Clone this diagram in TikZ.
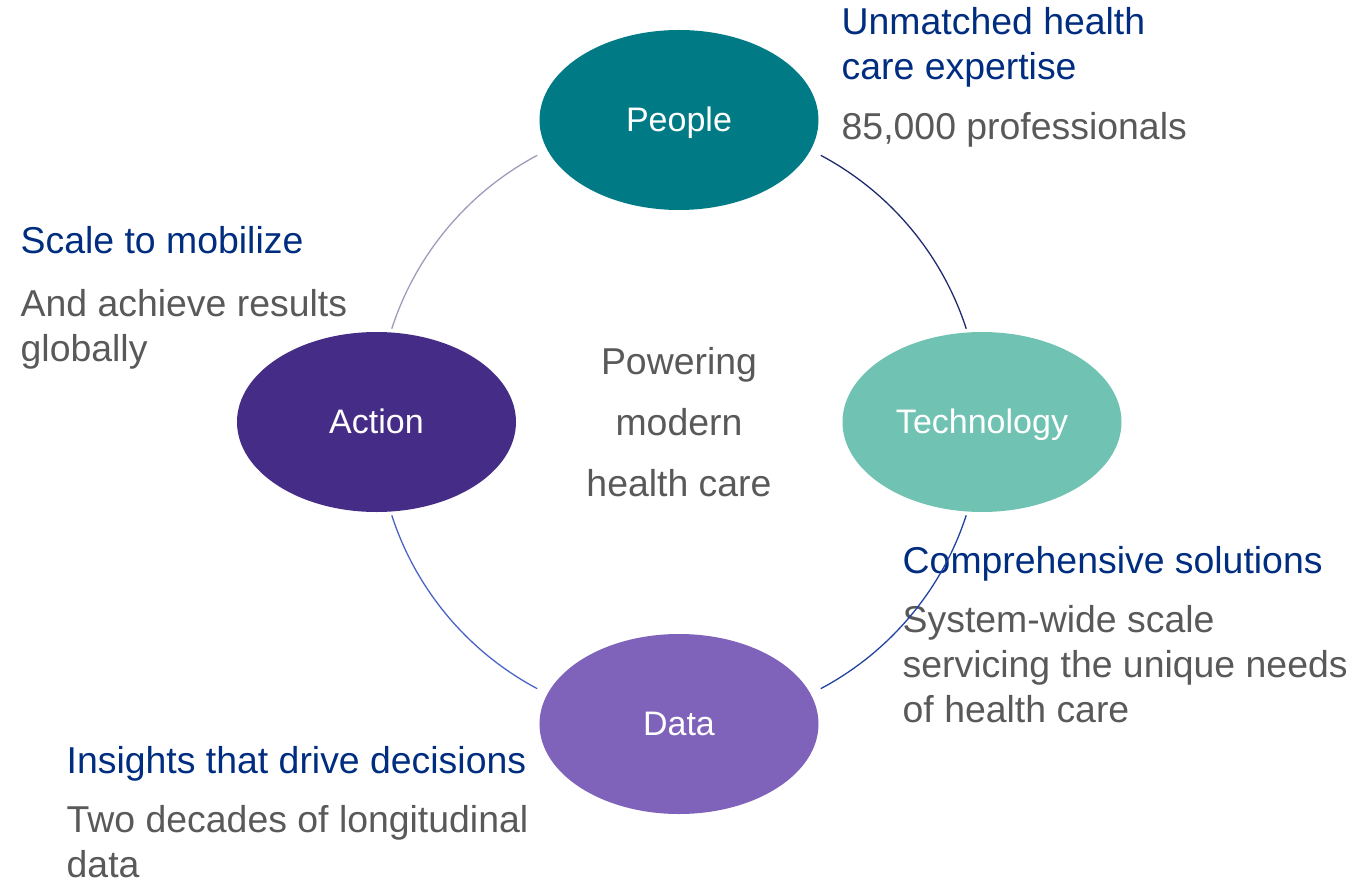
\documentclass[tikz,border=0pt]{standalone}
\usepackage{fontspec}
\setmainfont{Liberation Sans}
\usetikzlibrary{shapes.geometric}
\definecolor{peoplecol}{HTML}{007B85}
\definecolor{techcol}{HTML}{70C3B3}
\definecolor{datacol}{HTML}{7F62BA}
\definecolor{actioncol}{HTML}{452C87}
\definecolor{headcol}{HTML}{002D80}
\definecolor{notecol}{HTML}{595959}
\definecolor{ringA}{HTML}{9D9BBB}
\definecolor{ringB}{HTML}{1F2A6E}
\definecolor{ringC}{HTML}{2143A0}
\definecolor{ringD}{HTML}{4A63C4}

\begin{document}
\begin{tikzpicture}[x=1pt,y=1pt,
    blob/.style={ellipse, minimum width=279pt, minimum height=180pt,
      inner sep=0pt, text height=23pt, text depth=0pt,
      text=white, font=\fontsize{34}{40}\selectfont},
    head/.style={anchor=base west, inner sep=0pt, align=left,
      text=headcol, font=\fontsize{37.4}{45}\selectfont},
    note/.style={anchor=base west, inner sep=0pt, align=left,
      text=notecol, font=\fontsize{37.4}{45}\selectfont},
    ring/.style={line width=1.3pt}]
    \useasboundingbox (-679,-459) rectangle (691,422);
    \coordinate (hub) at (0,0);

    \node[blob, fill=peoplecol] (people) at (0,302)      {People};
    \node[blob, fill=techcol]   (tech)   at (303,0)      {Technology};
    \node[blob, fill=datacol]   (data)   at (0,-302)     {Data};
    \node[blob, fill=actioncol] (action) at (-302.5,0)   {Action};

    % multi-line nodes sit on the baseline of their last line
    \node[note, anchor=base, align=center, font=\fontsize{37.4}{61}\selectfont]
      (core) at (0,-74) {Powering\\modern\\health care};

    \node[head] (peoplehead) at (162.5,342)   {Unmatched health\\care expertise};
    \node[note] (peoplenote) at (162.5,282)   {85,000 professionals};
    \node[head] (actionhead) at (-658.5,168)  {Scale to mobilize};
    \node[note] (actionnote) at (-658.5,61)   {And achieve results\\globally};
    \node[head] (techhead)   at (223.5,-151)  {Comprehensive solutions};
    \node[note] (technote)   at (223.5,-300)  {System-wide scale\\servicing the unique needs\\of health care};
    \node[head] (datahead)   at (-612.5,-351) {Insights that drive decisions};
    \node[note] (datanote)   at (-612.5,-455) {Two decades of longitudinal\\data};

    \foreach \s/\e/\c in {162/118/ringA, 62/18/ringB, -18/-62/ringC, 242/198/ringD}
      \draw[ring, \c] (hub) ++(\s:302) arc[start angle=\s, end angle=\e, radius=302];
\end{tikzpicture}
\end{document}
